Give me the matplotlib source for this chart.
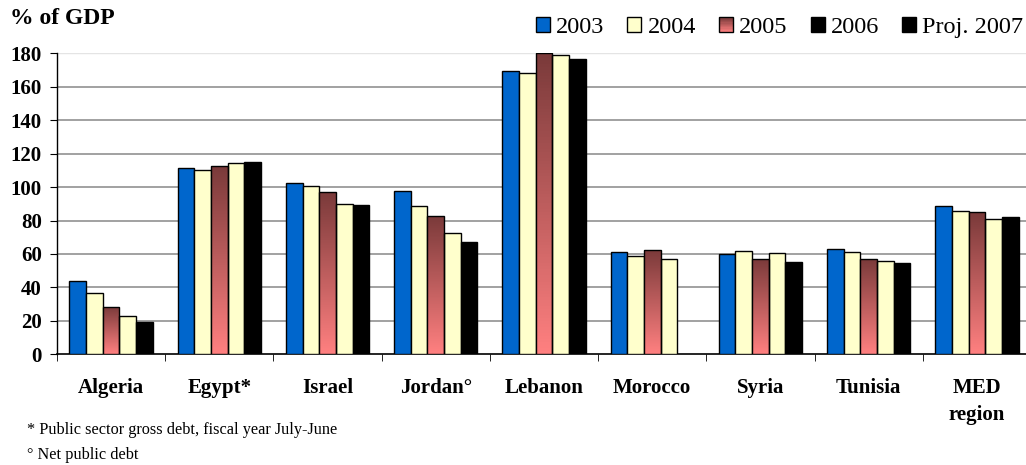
import numpy as np
import matplotlib
matplotlib.use('Agg')
from matplotlib import pyplot as plt
from matplotlib.patches import Patch, Rectangle
from matplotlib.colors import LinearSegmentedColormap
from matplotlib.legend_handler import HandlerBase

plt.rcParams['font.family'] = ['Liberation Serif', 'DejaVu Serif']

countries = ['Algeria', 'Egypt*', 'Israel', 'Jordan\u00b0', 'Lebanon',
             'Morocco', 'Syria', 'Tunisia', 'MED\nregion']
years = ['2003', '2004', '2005', '2006', 'Proj. 2007']

debt_2003 = [44.1, 111.5, 102.4, 97.8, 169.2, 61.0, 60.2, 63.0, 88.8]
debt_2004 = [36.7, 110.1, 100.9, 88.6, 168.2, 58.8, 62.0, 61.0, 85.8]
debt_2005 = [28.3, 112.7, 97.0, 82.8, 180.2, 62.6, 57.0, 57.2, 84.8]
debt_2006 = [22.7, 114.1, 89.8, 72.4, 179.2, 57.0, 60.4, 55.6, 81.2]
debt_2007 = [19.5, 114.9, 89.0, 67.0, 176.4, np.nan, 55.4, 54.6, 82.2]

series = [debt_2003, debt_2004, debt_2005, debt_2006, debt_2007]
bar_colors = ['#0066CC', '#FFFFCC', None, '#FFFFCC', '#000000']
legend_colors = ['#0066CC', '#FFFFCC', None, '#000000', '#000000']
grad = LinearSegmentedColormap.from_list('g', ['#FF8080', '#7A3A3A'])


class GradientHandler(HandlerBase):
    # legend swatch with the same vertical fade as the 2005 bars
    def create_artists(self, legend, orig_handle, xdescent, ydescent,
                       width, height, fontsize, trans):
        arts = []
        n = 12
        for i in range(n):
            arts.append(Rectangle((-xdescent, -ydescent + height * i / n), width, height / n,
                                  facecolor=grad(i / (n - 1)), edgecolor='none', transform=trans))
        arts.append(Rectangle((-xdescent, -ydescent), width, height, facecolor='none',
                              edgecolor='black', lw=1, transform=trans))
        return arts


fig = plt.figure(figsize=(10.26, 4.65), dpi=100)
ax = fig.add_axes([57 / 1026, 1 - 354.3 / 465, 974 / 1026, 301 / 465])

x = np.arange(len(countries))
bw = 0.154
for k, vals in enumerate(series):
    vals = np.array(vals, dtype=float)
    ok = ~np.isnan(vals)
    pos = (x + (k - 2) * bw)[ok]
    vals = vals[ok]
    if bar_colors[k] is None:
        bars = ax.bar(pos, vals, bw, facecolor='none', edgecolor='black', lw=1, zorder=4)
        for b, v in zip(bars, vals):
            img = ax.imshow(np.linspace(1, 0, 100).reshape(-1, 1), cmap=grad, aspect='auto',
                            extent=[b.get_x(), b.get_x() + bw, 0, v], zorder=3)
            img.set_clip_path(b)
    else:
        ax.bar(pos, vals, bw, color=bar_colors[k], edgecolor='black', lw=1, zorder=3)

ax.set_xlim(-0.5, len(countries) - 0.5)
ax.set_ylim(0, 180)
ax.set_yticks(range(0, 181, 20))
for v in range(20, 161, 20):
    ax.axhline(v, color='#9A9A9A', lw=1.3, zorder=1)
ax.axhline(180, color='#E4E4E4', lw=1.0, zorder=1)

ax.set_xticks(x)
ax.set_xticklabels(countries, fontsize=15, fontweight='bold', va='top', linespacing=1.45)
ax.set_xticks(np.arange(-0.5, len(countries), 1), minor=True)
ax.tick_params(axis='x', which='major', length=0, pad=17)
ax.tick_params(axis='x', which='minor', length=5, direction='out', color='black')
ax.tick_params(axis='y', length=5, pad=6, labelsize=15)
for t in ax.get_yticklabels():
    t.set_fontweight('bold')

for s in ['top', 'right']:
    ax.spines[s].set_visible(False)
ax.spines['left'].set_linewidth(1)
ax.spines['bottom'].set_linewidth(1.2)

handles = []
for k, y in enumerate(years):
    if legend_colors[k] is None:
        handles.append(Patch(label=y))
    else:
        handles.append(Patch(facecolor=legend_colors[k], edgecolor='black', lw=1, label=y))
fig.legend(handles=handles, loc='upper right', bbox_to_anchor=(1.019, 1.01), ncol=5,
           frameon=False, prop={'family': 'Liberation Serif', 'size': 17.5},
           handlelength=0.58, handleheight=0.58,
           handletextpad=0.25, columnspacing=0.95,
           handler_map={handles[2]: GradientHandler()})

fig.text(10 / 1026, 1 - 18 / 465, '% of GDP', fontsize=17, fontweight='bold', va='center')
fig.text(27 / 1026, 1 - 430 / 465, '* Public sector gross debt, fiscal year July-June',
         fontsize=11.7, va='center')
fig.text(27 / 1026, 1 - 455 / 465, '\u00b0 Net public debt', fontsize=11.7, va='center')

fig.savefig('out.png', dpi=100)
